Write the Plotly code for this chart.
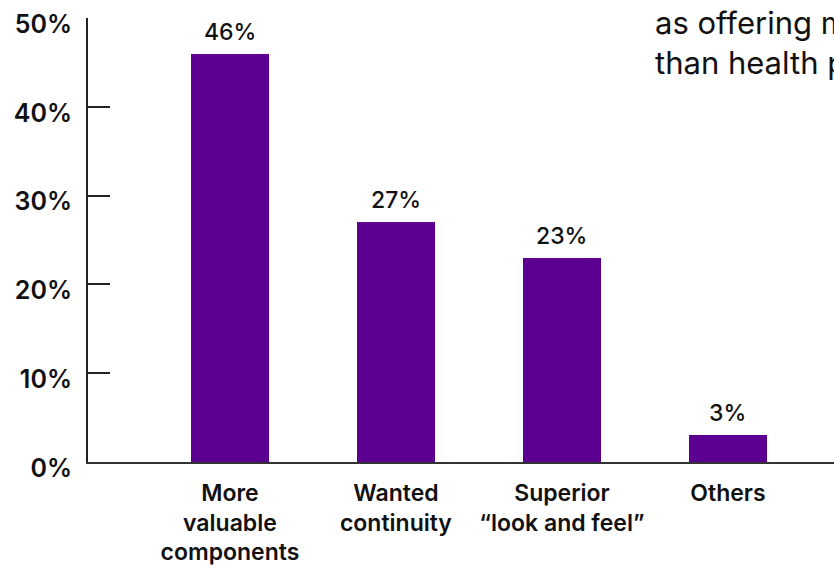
import plotly.graph_objects as go

categories = ["More<br>valuable<br>components", "Wanted<br>continuity",
              "Superior<br>“look and feel”", "Others"]
values = [46, 27, 23, 3]
value_labels = ["46%", "27%", "23%", "3%"]
y_tickvals = [0, 10, 20, 30, 40, 50]
y_ticktext = ["0%", "10%", "20%", "30%", "40%", "50%"]

FONT = "Inter"
BAR = "#5C0091"

fig = go.Figure()
fig.add_trace(go.Bar(
    x=categories, y=values, marker=dict(color=BAR, line=dict(width=0)),
    width=0.47, hoverinfo="skip",
))

for c, v, t in zip(categories, values, value_labels):
    fig.add_annotation(x=c, y=v, text=t, showarrow=False, yanchor="bottom",
                       yshift=6, font=dict(family=FONT, size=23, color="#111111", weight=500))

fig.add_annotation(xref="paper", yref="paper", x=0.757, y=1.035, xanchor="left", yanchor="top",
                   align="left", showarrow=False,
                   text="as offering more value<br>than health plans",
                   font=dict(family=FONT, size=31, color="#111111", weight=400))

fig.update_layout(
    width=834, height=565,
    margin=dict(l=88, r=0, t=17.5, b=102.5),
    plot_bgcolor="white", paper_bgcolor="white",
    showlegend=False, bargap=0,
    xaxis=dict(
        type="category", range=[-0.855, 3.639],
        showline=True, linecolor="#333333", linewidth=2,
        ticks="", showgrid=False, zeroline=False,
        tickfont=dict(family=FONT, size=23, color="#111111", weight=600),
        ticklabelstandoff=9,
    ),
    yaxis=dict(
        range=[0, 50], tickvals=y_tickvals, ticktext=y_ticktext,
        showline=True, linecolor="#222222", linewidth=2,
        ticks="inside", ticklen=22, tickwidth=2, tickcolor="#222222",
        showgrid=False, zeroline=False,
        tickfont=dict(family=FONT, size=25, color="#111111", weight=600),
        ticklabelstandoff=9, ticklabelshift=6,
    ),
)

fig.write_html("out.html")
